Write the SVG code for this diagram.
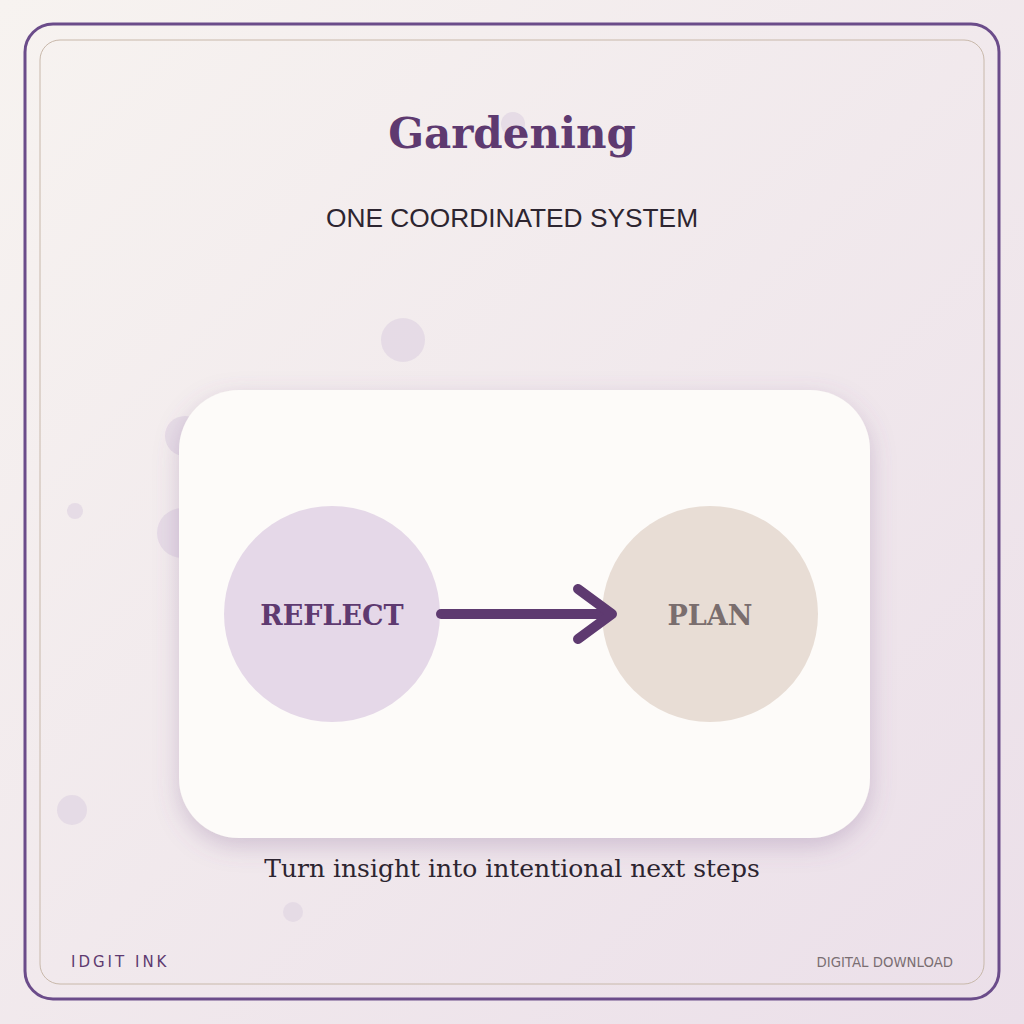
<svg xmlns="http://www.w3.org/2000/svg" width="1024" height="1024" viewBox="0 0 1024 1024">
  <defs>
    <linearGradient id="bg" x1="0" y1="0" x2="1" y2="1">
      <stop offset="0" stop-color="#f7f3f0"/>
      <stop offset="1" stop-color="#ebdfe9"/>
    </linearGradient>
    <filter id="shadow" x="-20%" y="-20%" width="140%" height="150%">
      <feDropShadow dx="0" dy="8" stdDeviation="12" flood-color="#7a5a8e" flood-opacity="0.28"/>
    </filter>
  </defs>
  <style>
    .dot { fill: #e3d8e4; opacity: 0.85; }
    .node-label { font-family: "DejaVu Serif", "Liberation Serif", serif; font-weight: bold; font-size: 27px; text-anchor: middle; dominant-baseline: central; }
    .conn { fill: none; stroke: #5e3a70; stroke-width: 10; stroke-linecap: round; stroke-linejoin: round; }
  </style>
  <rect width="1024" height="1024" fill="url(#bg)"/>
  <rect x="25" y="24" width="974" height="975" rx="28" fill="none" stroke="#6b4c8a" stroke-width="3"/>
  <rect x="40" y="40" width="944" height="944" rx="20" fill="none" stroke="#c8b8aa" stroke-width="1"/>

  <g id="decor">
    <circle class="dot" cx="513" cy="124" r="12"/>
    <circle class="dot" cx="403" cy="340" r="22"/>
    <circle class="dot" cx="185" cy="436" r="20"/>
    <circle class="dot" cx="182" cy="533" r="25"/>
    <circle class="dot" cx="75" cy="511" r="8"/>
    <circle class="dot" cx="72" cy="810" r="15"/>
    <circle class="dot" cx="293" cy="912" r="10"/>
  </g>

  <text x="512" y="148" font-family="DejaVu Serif, serif" font-weight="bold" font-size="42" fill="#5e3a70" text-anchor="middle">Gardening</text>
  <text x="512" y="227" font-family="Liberation Sans, Arial, sans-serif" font-size="26.3" fill="#2d2530" text-anchor="middle">ONE COORDINATED SYSTEM</text>

  <g id="card">
    <rect x="179" y="390" width="691" height="448" rx="60" fill="#fdfbf9" filter="url(#shadow)"/>
  </g>

  <g id="node-reflect">
    <circle cx="332" cy="614" r="108" fill="#e5d8e8"/>
    <text class="node-label" x="332" y="615" fill="#5e3a70">REFLECT</text>
  </g>
  <g id="node-plan">
    <circle cx="710" cy="614" r="108" fill="#e8ddd5"/>
    <text class="node-label" x="710" y="615" fill="#7a6e6e">PLAN</text>
  </g>

  <g id="connectors">
    <path class="conn" d="M441 614 H611"/>
    <path class="conn" d="M578 589 L612 614 L578 639"/>
  </g>

  <text x="512" y="877" font-family="DejaVu Serif, serif" font-size="25" fill="#2d2530" text-anchor="middle">Turn insight into intentional next steps</text>
  <text x="71" y="967" font-family="DejaVu Sans, sans-serif" font-size="15" letter-spacing="3" fill="#5e3a70">IDGIT INK</text>
  <text x="953" y="967" font-family="DejaVu Sans, sans-serif" font-size="13.3" fill="#7a6e72" text-anchor="end">DIGITAL DOWNLOAD</text>
</svg>
